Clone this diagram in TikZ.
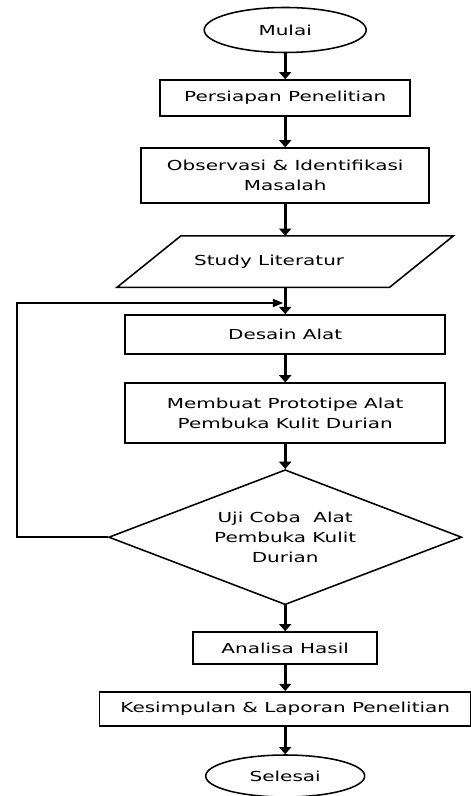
\documentclass[tikz,border=0pt]{standalone}
\usepackage{fontspec}
\setmainfont{DejaVu Sans}[FakeStretch=1.45]
\usetikzlibrary{arrows.meta,shapes.geometric}
\tikzset{
  box/.style={draw, line width=1.1pt, align=center, inner sep=2pt},
  startstop/.style={draw, ellipse, line width=1.1pt, inner sep=0pt},
  data/.style={inner sep=0pt},
  slant/.style={line width=1.1pt},
  decision/.style={draw, diamond, aspect=2.6, line width=1.1pt, inner sep=0pt, align=center},
  arr/.style={-{Triangle[length=1.8mm,width=3mm]}, line width=2pt},
  looparr/.style={-{Triangle[length=2.6mm,width=2mm]}, line width=1.2pt}
}

\begin{document}
\begin{tikzpicture}[font=\fontsize{9.8}{14.2}\selectfont]
\useasboundingbox (0,0) rectangle (11.75,-19.9);
\node[startstop, minimum width=4.05cm, minimum height=1.125cm] (mulai) at (7.13,-0.75) {Mulai};
\node[box, minimum width=6.25cm, minimum height=0.9cm] (persiapan) at (7.13,-2.45) {Persiapan Penelitian};
\node[box, minimum width=7.2cm, minimum height=1.375cm] (observasi) at (7.13,-4.39) {Observasi \& Identifikasi\\Masalah};
\node[data, minimum width=6.8cm, minimum height=1.275cm] (study) at (7.13,-6.54) {\hspace*{-0.8cm}Study Literatur};
\draw[slant] ([xshift=0.8cm]study.north west) -- ([xshift=0.8cm]study.north east)
  -- ([xshift=-0.8cm]study.south east) -- ([xshift=-0.8cm]study.south west) -- cycle;
\node[box, minimum width=8cm, minimum height=0.975cm] (desain) at (7.13,-8.36) {Desain Alat};
\node[box, minimum width=8cm, minimum height=1.5cm] (membuat) at (7.13,-10.33) {Membuat Prototipe Alat\\Pembuka Kulit Durian};
\node[decision, minimum width=8.825cm, minimum height=3.375cm] (uji) at (7.13,-13.43) {Uji Coba~ Alat\\Pembuka Kulit\\Durian};
\node[box, minimum width=4.6cm, minimum height=0.8cm] (analisa) at (7.13,-16.2) {Analisa Hasil};
\node[box, minimum width=9.275cm, minimum height=0.85cm] (kesimpulan) at (7.13,-17.72) {Kesimpulan \& Laporan Penelitian};
\node[startstop, minimum width=3.975cm, minimum height=1.05cm] (selesai) at (7.13,-19.4) {Selesai};
\coordinate (loopleft) at (0.425,-7.575);
\coordinate (loopin) at (7.08,-7.575);
\draw[arr] (mulai) -- (persiapan); \draw[arr] (persiapan) -- (observasi); \draw[arr] (observasi) -- (study);
\draw[arr] (study) -- (desain); \draw[arr] (desain) -- (membuat); \draw[arr] (membuat) -- (uji);
\draw[arr] (uji) -- (analisa); \draw[arr] (analisa) -- (kesimpulan); \draw[arr] (kesimpulan) -- (selesai);
\draw[looparr] (uji.west) -| (loopleft) -- (loopin);
\end{tikzpicture}
\end{document}
